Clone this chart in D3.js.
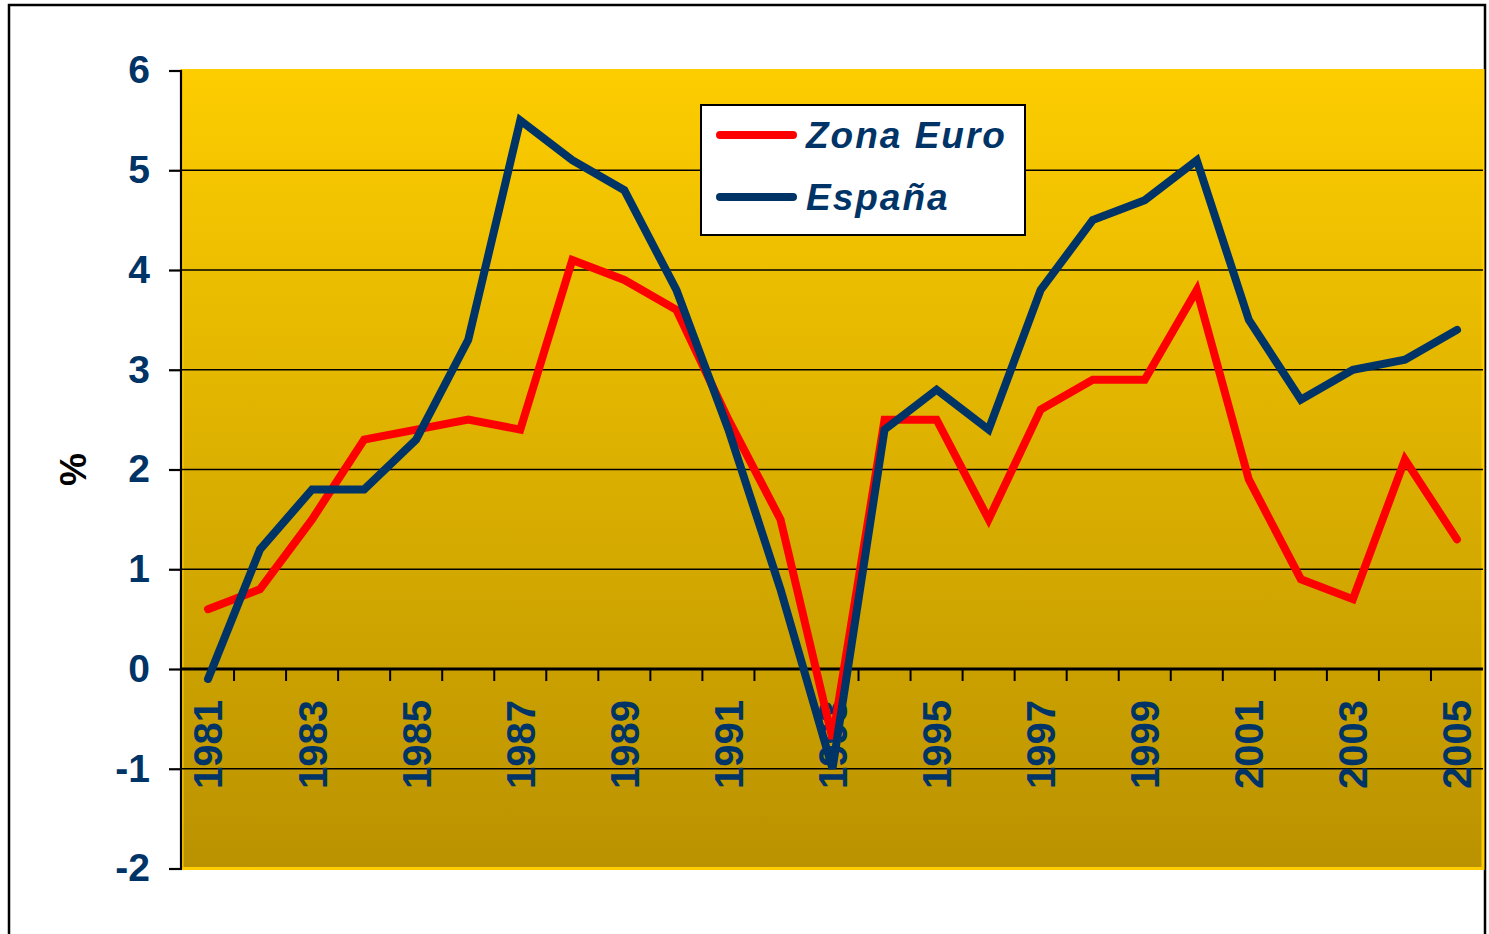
<!DOCTYPE html>
<html>
<head>
<meta charset="utf-8">
<script src="https://cdn.jsdelivr.net/npm/d3@7"></script>
<style>
  body { margin: 0; background: #fff; }
  svg { display: block; font-family: Arial, "Liberation Sans", sans-serif; }
</style>
</head>
<body>
<svg id="chart" width="1489" height="934"></svg>
<script>
// data (GDP growth, %)
const years = d3.range(1981, 2006);
const zonaEuro = [0.6, 0.8, 1.5, 2.3, 2.4, 2.5, 2.4, 4.1, 3.9, 3.6, 2.5, 1.5, -0.7, 2.5, 2.5, 1.5, 2.6, 2.9, 2.9, 3.8, 1.9, 0.9, 0.7, 2.1, 1.3];
const espana = [-0.1, 1.2, 1.8, 1.8, 2.3, 3.3, 5.5, 5.1, 4.8, 3.8, 2.4, 0.8, -1.0, 2.4, 2.8, 2.4, 3.8, 4.5, 4.7, 5.1, 3.5, 2.7, 3.0, 3.1, 3.4];
const yTicks = [-2, -1, 0, 1, 2, 3, 4, 5, 6];
const labelYears = years.filter(y => y % 2 === 1);
const seriesNames = ['Zona Euro', 'España'];
const seriesColors = ['#ff0000', '#003366'];

const svg = d3.select('#chart');
const margin = { top: 70.5, right: 6, bottom: 65.5, left: 182 };
const width = 1489, height = 934;
const innerWidth = width - margin.left - margin.right;
const innerHeight = height - margin.top - margin.bottom;

// outer frame
svg.append('rect')
  .attr('x', 9).attr('y', 5)
  .attr('width', 1476).attr('height', 1000)
  .attr('fill', 'none')
  .attr('stroke', '#000')
  .attr('stroke-width', 2.5);

const xScale = d3.scaleBand().domain(years).range([0, innerWidth]);
const yScale = d3.scaleLinear().domain([-2, 6]).range([innerHeight, 0]);
const xc = d => xScale(d) + xScale.bandwidth() / 2;

// background gradient
const grad = svg.append('defs').append('linearGradient')
  .attr('id', 'bg').attr('x1', 0).attr('y1', 0).attr('x2', 0).attr('y2', 1);
grad.append('stop').attr('offset', '0%').attr('stop-color', '#fdcd00');
grad.append('stop').attr('offset', '100%').attr('stop-color', '#ba9200');

const g = svg.append('g').attr('transform', `translate(${margin.left},${margin.top})`);

g.append('rect')
  .attr('width', innerWidth).attr('height', innerHeight)
  .attr('fill', 'url(#bg)')
  .attr('stroke', '#ffcc00')
  .attr('stroke-width', 3);

// horizontal gridlines
g.append('g')
  .selectAll('line')
  .data(yTicks.filter(t => t !== 0 && t !== -2 && t !== 6))
  .join('line')
  .attr('x1', 0).attr('x2', innerWidth)
  .attr('y1', d => yScale(d)).attr('y2', d => yScale(d))
  .attr('stroke', '#000')
  .attr('stroke-width', 1.6);

// y axis (plain hyphen for negatives, like the original)
const yAxis = g.append('g')
  .call(d3.axisLeft(yScale).tickValues(yTicks).tickSize(13).tickPadding(19).tickFormat(d => String(d)));
yAxis.select('.domain').attr('stroke', '#000').attr('stroke-width', 2.2).attr('d', `M-1,0V${innerHeight}`);
yAxis.selectAll('.tick line').attr('stroke', '#000').attr('stroke-width', 2.2);
yAxis.selectAll('.tick text')
  .attr('fill', '#003366')
  .attr('font-size', 39)
  .attr('font-weight', 'bold');

// "%" title
svg.append('text')
  .attr('transform', `translate(86,${margin.top + innerHeight / 2}) rotate(-90)`)
  .attr('text-anchor', 'middle')
  .attr('font-size', 37)
  .attr('font-weight', 'bold')
  .attr('fill', '#000')
  .text('%');

// x axis sitting on the zero line
const y0 = yScale(0);
const xAxis = g.append('g').attr('transform', `translate(0,${y0})`);
xAxis.append('line')
  .attr('x1', 0).attr('x2', innerWidth)
  .attr('stroke', '#000').attr('stroke-width', 2.8);
xAxis.selectAll('.xtick')
  .data(years.slice(1))
  .join('line')
  .attr('class', 'xtick')
  .attr('x1', d => xScale(d)).attr('x2', d => xScale(d))
  .attr('y1', 0).attr('y2', 12)
  .attr('stroke', '#000').attr('stroke-width', 2);
xAxis.selectAll('.xlabel')
  .data(labelYears)
  .join('text')
  .attr('class', 'xlabel')
  .attr('transform', d => `translate(${xc(d)},120) rotate(-90)`)
  .attr('dy', '0.36em')
  .attr('font-size', 40)
  .attr('font-weight', 'bold')
  .attr('fill', '#003366')
  .text(d => d);

// series lines
const line = d3.line()
  .x((d, i) => xc(years[i]))
  .y(d => yScale(d));

[zonaEuro, espana].forEach((s, i) => {
  g.append('path')
    .datum(s)
    .attr('d', line)
    .attr('fill', 'none')
    .attr('stroke', seriesColors[i])
    .attr('stroke-width', 8)
    .attr('stroke-linecap', 'round')
    .attr('stroke-linejoin', 'miter');
});

// legend
const legend = svg.append('g').attr('transform', 'translate(701,105)');
legend.append('rect')
  .attr('width', 324).attr('height', 130)
  .attr('fill', '#fff')
  .attr('stroke', '#000')
  .attr('stroke-width', 2);
seriesNames.forEach((name, i) => {
  const yy = 30 + i * 62;
  legend.append('line')
    .attr('x1', 19).attr('x2', 92)
    .attr('y1', yy).attr('y2', yy)
    .attr('stroke', seriesColors[i])
    .attr('stroke-width', 8)
    .attr('stroke-linecap', 'round');
  legend.append('text')
    .attr('x', 105).attr('y', yy + 13)
    .attr('font-size', 37)
    .attr('font-weight', 'bold')
    .attr('font-style', 'italic')
    .attr('letter-spacing', 2)
    .attr('fill', '#003366')
    .text(name);
});
</script>
</body>
</html>
